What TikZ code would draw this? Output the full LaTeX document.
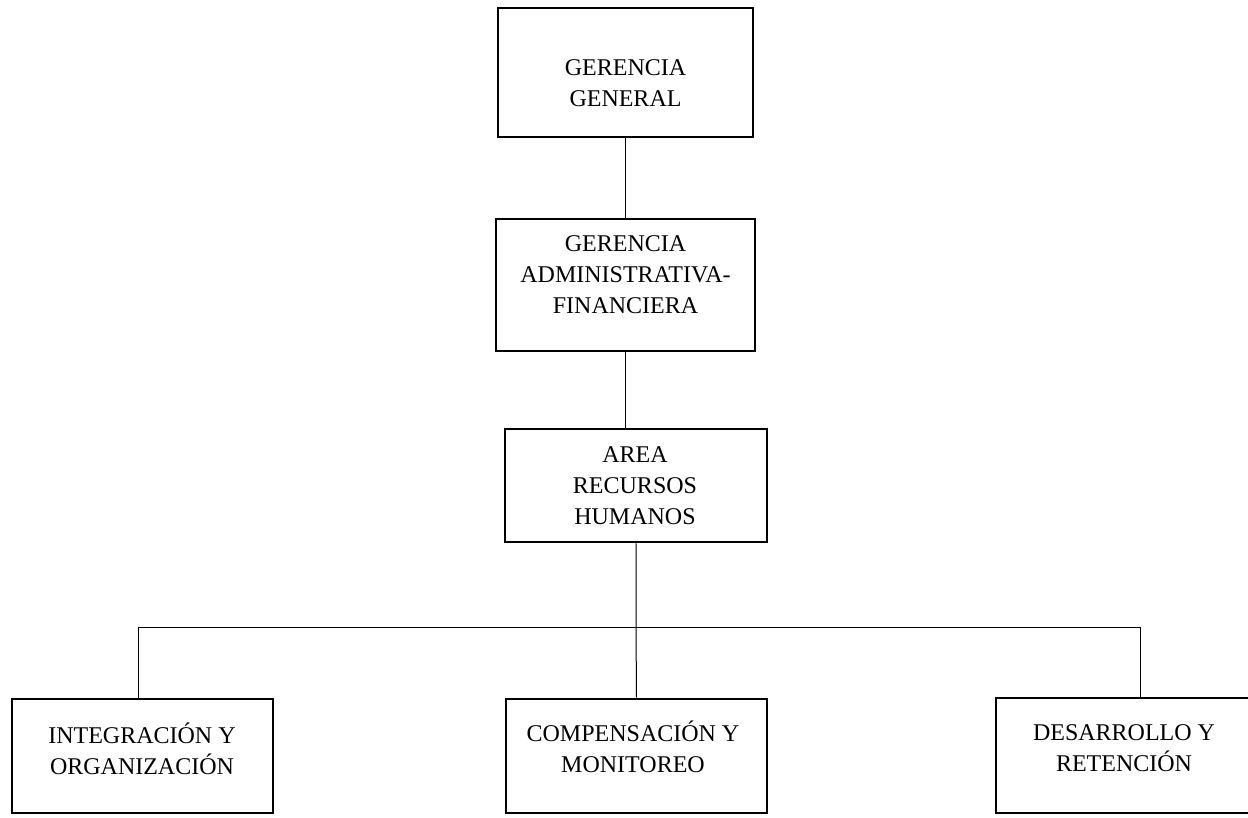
\documentclass[tikz,border=0pt]{standalone}
\usepackage{fontspec}
\setmainfont{Liberation Serif}
\begin{document}
\begin{tikzpicture}[x=1pt,y=-1pt,
  orgbox/.style={draw=black, line width=2.8pt, rectangle, inner sep=0pt},
  lbl/.style={align=center, inner sep=0pt, font=\fontsize{24}{31}\selectfont},
  link/.style={draw=black, line width=1pt}]
\clip (0,0) rectangle (1248,817);
\fill[white] (0,0) rectangle (1248,817);

% boxes
\node[orgbox, minimum width=255pt, minimum height=129pt] (b1) at (625.5,72.5) {};
\node[orgbox, minimum width=259pt, minimum height=132pt] (b2) at (625.5,285) {};
\node[orgbox, minimum width=262pt, minimum height=113pt] (b3) at (636,485.5) {};
\node[orgbox, minimum width=261pt, minimum height=114pt] (b4) at (142.5,756) {};
\node[orgbox, minimum width=261pt, minimum height=114pt] (b5) at (636.5,756) {};
\node[orgbox, minimum width=261pt, minimum height=115pt] (b6) at (1126.5,755.5) {};

% labels
\node[lbl] (t1) at (625.5,83.5) {GERENCIA\\GENERAL};
\node[lbl] (t2) at (625.5,274.5) {GERENCIA\\ADMINISTRATIVA-\\FINANCIERA};
\node[lbl] (t3) at (635,485.5) {AREA\\RECURSOS\\HUMANOS};
\node[lbl] (t4) at (142,748.5) {INTEGRACIÓN Y\\ORGANIZACIÓN};
\node[lbl] (t5) at (633,746.5) {COMPENSACIÓN Y\\MONITOREO};
\node[lbl] (t6) at (1124,748.5) {DESARROLLO Y\\RETENCIÓN};

% connectors
\coordinate (jl) at (138,627);
\coordinate (jr) at (1140,627);
\coordinate (jm) at (636,627);
\draw[link] (b1.south) -- (b2.north);
\draw[link] (b2.south) -- (b2.south |- b3.north);
\draw[link] (b3.south) -- (jm) -- (b5.north);
\draw[link] (jl |- b4.north) -- (jl) -- (jr) -- (jr |- b6.north);
\end{tikzpicture}
\end{document}
